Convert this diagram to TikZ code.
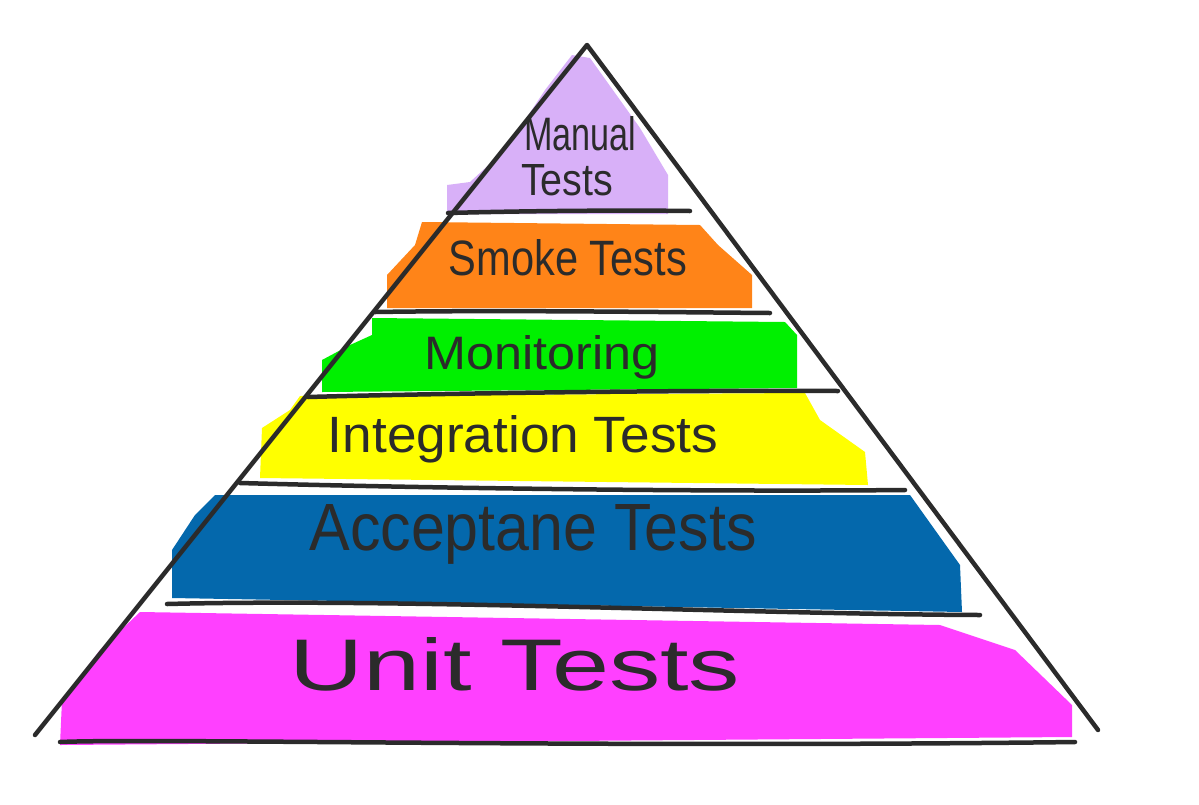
\documentclass[tikz,border=0pt]{standalone}
\usepackage{fontspec}
\setmainfont{Liberation Sans}
\usepackage{graphicx}
\definecolor{ink}{HTML}{2B2B2B}
\definecolor{cpurple}{HTML}{D8B0F8}
\definecolor{corange}{HTML}{FF8418}
\definecolor{cgreen}{HTML}{00F000}
\definecolor{cyellow}{HTML}{FFFF00}
\definecolor{cblue}{HTML}{0468AC}
\definecolor{cmagenta}{HTML}{FF40FF}
\tikzset{
  pen/.style={draw=ink, line width=4.5pt, line cap=round, line join=round},
  lbl/.style={text=ink, inner sep=0pt, anchor=base},
}
\newcommand{\fitwh}[3]{\resizebox{#1pt}{#2pt}{#3}}
\begin{document}
\begin{tikzpicture}[x=1pt,y=-1pt]
\useasboundingbox (0,0) rectangle (1199,804);
% bands
\fill[cpurple] (572,55) -- (590,58) -- (640,128) -- (668,175) -- (668,214) -- (447,214) -- (447,185) -- (470,182) -- (505,150) -- (545,90) -- cycle;
\fill[corange] (422,222) -- (700,225) -- (718,245) -- (752,275) -- (752,308) -- (387,308) -- (387,275) -- (415,245) -- cycle;
\fill[cgreen] (372,318) -- (785,322) -- (797,335) -- (797,388) -- (322,392) -- (322,360) -- (350,345) -- (372,335) -- cycle;
\fill[cyellow] (300,396) -- (805,393) -- (820,420) -- (865,452) -- (868,485) -- (260,478) -- (262,428) -- (290,410) -- cycle;
\fill[cblue] (215,495) -- (910,495) -- (935,530) -- (960,565) -- (962,612) -- (172,598) -- (172,550) -- (195,515) -- cycle;
\fill[cmagenta] (140,612) -- (940,625) -- (1015,650) -- (1072,705) -- (1072,737) -- (60,745) -- (62,700) -- (100,650) -- cycle;
% pyramid outline
\draw[pen] (35,735) -- (587,45) -- (1098,730);
% separators
\draw[pen] (448,213) .. controls (520,211) and (620,210) .. (690,211);
\draw[pen] (375,312) .. controls (500,310) and (650,312) .. (770,313);
\draw[pen] (308,397) .. controls (450,393) and (700,390) .. (838,391);
\draw[pen] (240,483) .. controls (420,488) and (700,492) .. (905,490);
\draw[pen] (167,604) .. controls (400,598) and (750,614) .. (980,615);
\draw[pen] (60,742) .. controls (150,738) and (600,748) .. (1075,742);
% labels
\node[lbl] (manual) at (580,150) {\fitwh{112}{34}{Manual}};
\node[lbl] (manualb) at (567,195) {\fitwh{92}{31}{Tests}};
\node[lbl] (smoke) at (568,275) {\fitwh{238}{36}{Smoke Tests}};
\node[lbl] (monitor) at (542,369) {\fitwh{235}{34}{Monitoring}};
\node[lbl] (integ) at (523,452) {\fitwh{390}{37}{Integration Tests}};
\node[lbl] (accept) at (533,550) {\fitwh{447}{46}{Acceptane Tests}};
\node[lbl] (unit) at (515,690) {\fitwh{450}{53}{Unit Tests}};
\end{tikzpicture}
\end{document}
